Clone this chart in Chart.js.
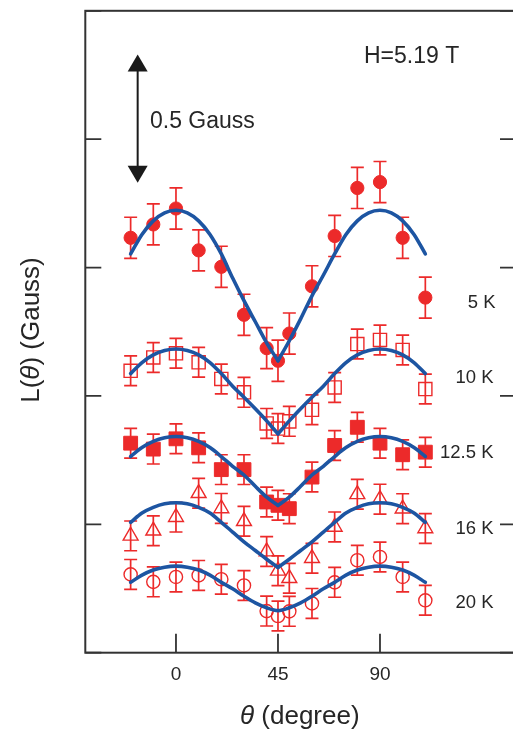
<!DOCTYPE html>
<html><head><meta charset="utf-8">
<script src="https://cdn.jsdelivr.net/npm/chart.js@4/dist/chart.umd.min.js"></script>
<style>
html,body{margin:0;padding:0;overflow:hidden;background:#fff;width:513px;height:731px}
#wrap{position:absolute;left:0;top:0;width:540px;height:731px}
</style></head><body>
<div id="wrap"><canvas id="c" width="540" height="731"></canvas></div>
<script>
// ---- data ----
const theta = [-20,-10,0,10,20,30,40,45,50,60,70,80,90,100,110];
const L5K  = [1.616,1.668,1.730,1.567,1.503,1.316,1.186,1.137,1.243,1.427,1.623,1.810,1.833,1.616,1.383];
const L10K = [1.098,1.150,1.166,1.131,1.066,1.014,0.893,0.873,0.901,0.946,1.033,1.202,1.218,1.179,1.027];
const L125K= [0.816,0.793,0.833,0.798,0.713,0.713,0.587,0.574,0.561,0.684,0.807,0.878,0.816,0.771,0.781];
const L16K = [0.455,0.475,0.528,0.621,0.562,0.512,0.394,0.319,0.290,0.368,0.490,0.617,0.598,0.561,0.484];
const L20K = [0.305,0.276,0.295,0.301,0.286,0.262,0.162,0.143,0.161,0.192,0.274,0.360,0.373,0.295,0.204];
const err5K = 0.08;
const errLow = 0.058;

const fitTheta = [-20,-15,-10,-5,0,5,10,15,20,25,30,35,40,45,50,55,60,65,70,75,80,85,90,95,100,105,110];
const fit5K  = [1.553,1.629,1.682,1.713,1.723,1.713,1.682,1.629,1.553,1.459,1.371,1.289,1.207,1.137,1.215,1.300,1.390,1.470,1.553,1.629,1.682,1.713,1.723,1.713,1.682,1.629,1.553];
const fit10K = [1.087,1.130,1.160,1.177,1.183,1.177,1.160,1.130,1.087,1.038,0.995,0.950,0.903,0.852,0.903,0.950,0.995,1.038,1.087,1.130,1.160,1.177,1.183,1.177,1.160,1.130,1.087];
const fit125K= [0.764,0.799,0.823,0.837,0.842,0.837,0.823,0.799,0.764,0.726,0.692,0.648,0.606,0.574,0.606,0.648,0.692,0.726,0.764,0.799,0.823,0.837,0.842,0.837,0.823,0.799,0.764];
const fit16K = [0.508,0.544,0.566,0.580,0.584,0.580,0.566,0.544,0.508,0.470,0.432,0.398,0.364,0.332,0.364,0.398,0.432,0.470,0.508,0.544,0.566,0.580,0.584,0.580,0.566,0.544,0.508];
const fit20K = [0.274,0.302,0.322,0.333,0.337,0.333,0.322,0.302,0.274,0.249,0.220,0.194,0.175,0.164,0.175,0.194,0.220,0.249,0.274,0.302,0.322,0.333,0.337,0.333,0.322,0.302,0.274];

const xTicks = [0,45,90];
const yTicks = [0,0.5,1,1.5,2,2.5];
const tempLabels = ['5 K','10 K','12.5 K','16 K','20 K'];
const fieldLabel = 'H=5.19 T';
const scaleLabel = '0.5 Gauss';

// ---- styling ----
const RED = '#ec2a2a';
const BLUE = '#1d55a2';
const INK = '#262626';
const FONT = '"Liberation Sans", Arial, Helvetica, sans-serif';

const pts = (ys) => ys.map((y,i)=>({x:theta[i], y}));
const fitPts = (ys, a, b) => ys.map((y,i)=>({x:fitTheta[i], y})).filter(p=>p.x>=a && p.x<=b);

function pointSet(ys, style, radius, filled) {
  return {type:'scatter', data:pts(ys), pointStyle:style, pointRadius:radius, pointHoverRadius:radius,
    pointBackgroundColor: filled ? RED : 'rgba(0,0,0,0)', pointBorderColor: RED,
    pointBorderWidth: filled ? 1 : 1.4, showLine:false, order:2};
}
function lineSet(data) {
  return {type:'line', data, borderColor:BLUE, borderWidth:3.6, pointRadius:0, fill:false,
    cubicInterpolationMode:'monotone', order:0, borderCapStyle:'round', borderJoinStyle:'round'};
}

const series = [
  {ys:L5K, err:err5K}, {ys:L10K, err:errLow}, {ys:L125K, err:errLow}, {ys:L16K, err:errLow}, {ys:L20K, err:errLow}
];

const datasets = [
  pointSet(L5K,'circle',6.6,true),
  pointSet(L10K,'rect',9.3,false),
  pointSet(L125K,'rect',9.8,true),
  pointSet(L16K,'triangle',8.6,false),
  pointSet(L20K,'circle',6.6,false),
  lineSet(fitPts(fit5K,-20,45)), lineSet(fitPts(fit5K,45,110)),
  lineSet(fitPts(fit10K,-20,45)), lineSet(fitPts(fit10K,45,110)),
  lineSet(fitPts(fit125K,-20,45)), lineSet(fitPts(fit125K,45,110)),
  lineSet(fitPts(fit16K,-20,45)), lineSet(fitPts(fit16K,45,110)),
  lineSet(fitPts(fit20K,-20,110))
];

const decor = {
  id:'decor',
  beforeDatasetsDraw(chart){
    const {ctx, scales:{x,y}} = chart;
    ctx.save();
    ctx.strokeStyle = RED; ctx.lineWidth = 1.7;
    series.forEach(s=>{
      s.ys.forEach((v,i)=>{
        const px = x.getPixelForValue(theta[i]);
        const t = y.getPixelForValue(v + s.err), b = y.getPixelForValue(v - s.err);
        ctx.beginPath();
        ctx.moveTo(px,t); ctx.lineTo(px,b);
        ctx.moveTo(px-6.5,t); ctx.lineTo(px+6.5,t);
        ctx.moveTo(px-6.5,b); ctx.lineTo(px+6.5,b);
        ctx.stroke();
      });
    });
    ctx.restore();
  },
  afterDraw(chart){
    const {ctx, chartArea:a, scales:{x,y}} = chart;
    ctx.save();
    // frame
    ctx.strokeStyle = '#333'; ctx.lineWidth = 2;
    ctx.strokeRect(a.left, a.top, a.right-a.left, a.bottom-a.top);
    // ticks inward
    ctx.lineWidth = 1.8;
    ctx.beginPath();
    yTicks.forEach(v=>{
      const py = y.getPixelForValue(v);
      ctx.moveTo(a.left,py); ctx.lineTo(a.left+16,py);
      ctx.moveTo(a.right,py); ctx.lineTo(a.right-16,py);
    });
    xTicks.forEach(v=>{
      const px = x.getPixelForValue(v);
      ctx.moveTo(px,a.bottom); ctx.lineTo(px,a.bottom-19);
    });
    ctx.stroke();

    // arrow (0.5 Gauss)
    const ax = x.getPixelForValue(-16.9);
    const yT = y.getPixelForValue(2.33), yB = y.getPixelForValue(1.83);
    ctx.strokeStyle = '#1a1a1a'; ctx.fillStyle = '#1a1a1a'; ctx.lineWidth = 2;
    ctx.beginPath(); ctx.moveTo(ax,yT+10); ctx.lineTo(ax,yB-10); ctx.stroke();
    ctx.beginPath(); ctx.moveTo(ax,yT); ctx.lineTo(ax-10,yT+17); ctx.lineTo(ax+10,yT+17); ctx.closePath(); ctx.fill();
    ctx.beginPath(); ctx.moveTo(ax,yB); ctx.lineTo(ax-10,yB-17); ctx.lineTo(ax+10,yB-17); ctx.closePath(); ctx.fill();

    // texts
    ctx.fillStyle = INK;
    ctx.textBaseline = 'alphabetic';
    ctx.textAlign = 'left';
    ctx.font = '23px ' + FONT;
    ctx.fillText(fieldLabel, 364, 62.7);
    ctx.fillText(scaleLabel, 150, 128.3);

    ctx.font = '18.5px ' + FONT;
    ctx.textAlign = 'right';
    const labY = [308.3, 383.3, 458.3, 533.5, 608.3];
    tempLabels.forEach((t,i)=>ctx.fillText(t, i===0 ? 495.5 : 493.5, labY[i]));

    // x title with italic theta
    ctx.textAlign = 'left';
    ctx.font = 'italic 26px ' + FONT;
    const th = '\u03B8';
    ctx.fillText(th, 240, 724);
    const w1 = ctx.measureText(th).width;
    ctx.font = '26px ' + FONT;
    ctx.fillText(' (degree)', 240 + w1, 724);

    // y title rotated: L(θ) (Gauss) with italic theta
    ctx.translate(39, 330);
    ctx.rotate(-Math.PI/2);
    ctx.font = '26px ' + FONT;
    const p1 = 'L(', p3 = ') (Gauss)';
    const wA = ctx.measureText(p1).width, wC = ctx.measureText(p3).width;
    ctx.font = 'italic 26px ' + FONT;
    const wB = ctx.measureText(th).width;
    const tot = wA + wB + wC;
    let sx = -tot/2;
    ctx.font = '26px ' + FONT; ctx.fillText(p1, sx, 0); sx += wA;
    ctx.font = 'italic 26px ' + FONT; ctx.fillText(th, sx, 0); sx += wB;
    ctx.font = '26px ' + FONT; ctx.fillText(p3, sx, 0);
    ctx.restore();
  }
};

new Chart(document.getElementById('c').getContext('2d'), {
  type:'scatter',
  data:{datasets},
  options:{
    responsive:false, animation:false, devicePixelRatio:1,
    layout:{padding:{top:10, right:24, left:0, bottom:0}},
    plugins:{legend:{display:false}, tooltip:{enabled:false}},
    scales:{
      x:{type:'linear', min:-40, max:150,
        afterBuildTicks:(s)=>{ s.ticks = xTicks.map(v=>({value:v})); },
        afterFit:(s)=>{ s.height = 78.3; },
        grid:{display:false, drawTicks:false}, border:{display:false},
        ticks:{color:INK, font:{family:FONT, size:19}, padding:11, maxRotation:0}
      },
      y:{type:'linear', min:0, max:2.5,
        afterBuildTicks:(s)=>{ s.ticks = yTicks.map(v=>({value:v})); },
        afterFit:(s)=>{ s.width = 85.3; },
        grid:{display:false, drawTicks:false}, border:{display:false},
        ticks:{display:false}
      }
    }
  },
  plugins:[decor]
});
</script>
</body></html>
